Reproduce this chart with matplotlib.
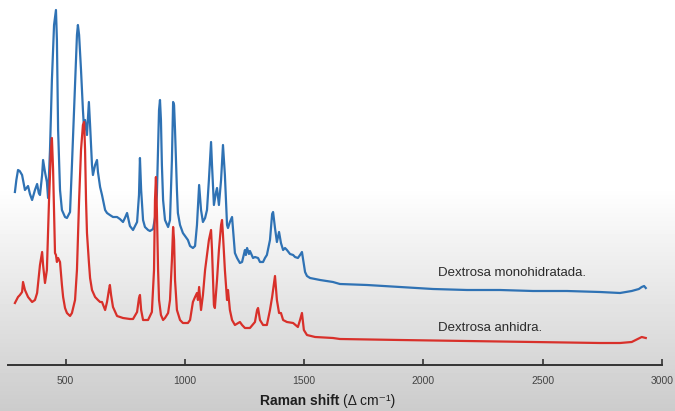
import matplotlib.pyplot as plt
import numpy as np

# Raman spectra (arbitrary intensity units)
wn_mono = [288, 294, 301, 308, 318, 330, 343, 351, 360, 372, 381, 388, 393, 402, 406,
           414, 422, 427, 435, 443, 452, 460, 464, 469, 477, 485, 498, 506, 519, 527,
           540, 548, 552, 557, 565, 573, 578, 582, 590, 598, 603, 611, 615, 624, 632,
           636, 645, 653, 666, 674, 686, 699, 716, 728, 741, 749, 758, 770, 783, 800,
           808, 812, 817, 825, 833, 846, 854, 867, 875, 883, 888, 892, 896, 900, 904,
           909, 917, 930, 938, 946, 951, 955, 959, 967, 971, 980, 992, 1001, 1013, 1022,
           1034, 1043, 1051, 1060, 1068, 1076, 1085, 1093, 1101, 1110, 1114, 1122, 1131, 1135, 1143,
           1152, 1160, 1168, 1177, 1181, 1189, 1198, 1210, 1219, 1231, 1240, 1252, 1256, 1261, 1269,
           1273, 1286, 1294, 1307, 1315, 1328, 1336, 1344, 1357, 1366, 1370, 1378, 1386, 1395, 1403,
           1412, 1420, 1428, 1441, 1454, 1462, 1474, 1483, 1491, 1495, 1504, 1512, 1525, 1546, 1567,
           1621, 1650, 1764, 1902, 2040, 2183, 2321, 2459, 2602, 2740, 2824, 2873, 2903, 2915, 2925,
           2932]
int_mono = [173, 185, 195, 194, 190, 175, 179, 171, 165, 175, 181, 172, 170, 190, 205,
            193, 183, 167, 215, 285, 340, 355, 325, 235, 175, 155, 148, 147, 153, 200,
            280, 330, 340, 330, 295, 255, 235, 245, 230, 263, 240, 200, 190, 200, 205,
            193, 178, 170, 155, 152, 150, 148, 148, 146, 143, 147, 152, 139, 135, 143,
            170, 207, 175, 145, 138, 135, 134, 136, 147, 170, 215, 255, 265, 245, 200,
            165, 145, 138, 145, 205, 263, 260, 235, 175, 152, 140, 132, 129, 125, 119,
            117, 119, 140, 180, 155, 143, 147, 155, 185, 223, 200, 160, 173, 177, 160,
            185, 220, 190, 140, 137, 143, 148, 112, 107, 102, 103, 115, 110, 117, 111,
            114, 107, 108, 107, 103, 103, 107, 110, 125, 151, 153, 137, 123, 133, 122,
            115, 117, 115, 111, 110, 108, 107, 110, 113, 107, 93, 89, 87, 86, 85,
            83, 81, 80, 78, 76, 75, 75, 74, 74, 73, 72, 74, 76, 78, 79,
            77]

wn_anh = [288, 301, 309, 318, 322, 330, 343, 360, 372, 381, 393, 402, 406, 414, 422,
          431, 439, 443, 448, 456, 460, 464, 469, 477, 485, 490, 498, 506, 519, 527,
          540, 548, 557, 565, 573, 578, 582, 586, 590, 598, 603, 611, 624, 636, 645,
          653, 666, 674, 682, 686, 691, 699, 716, 741, 770, 783, 800, 808, 812, 817,
          825, 846, 862, 871, 875, 879, 883, 888, 892, 900, 909, 917, 930, 938, 946,
          951, 955, 959, 967, 980, 992, 1013, 1022, 1034, 1043, 1051, 1055, 1060, 1068, 1076,
          1085, 1093, 1101, 1110, 1114, 1122, 1126, 1135, 1143, 1152, 1156, 1160, 1168, 1177, 1181,
          1189, 1198, 1210, 1231, 1240, 1252, 1273, 1294, 1303, 1307, 1315, 1328, 1344, 1357, 1366,
          1370, 1378, 1386, 1395, 1403, 1412, 1428, 1454, 1474, 1483, 1491, 1499, 1512, 1546, 1621,
          1650, 1902, 2183, 2459, 2740, 2824, 2873, 2890, 2915, 2932]
int_anh = [62, 68, 70, 73, 83, 75, 68, 63, 65, 72, 100, 113, 100, 82, 95,
           165, 215, 227, 195, 112, 110, 103, 107, 103, 80, 68, 57, 52, 49, 52,
           65, 95, 165, 215, 240, 243, 215, 165, 132, 103, 87, 75, 68, 65, 63,
           63, 55, 63, 75, 80, 70, 58, 49, 47, 46, 46, 53, 67, 70, 55,
           45, 45, 53, 95, 165, 188, 155, 95, 65, 50, 45, 47, 52, 65, 105,
           138, 125, 85, 55, 45, 42, 42, 45, 63, 68, 72, 65, 78, 55, 70,
           95, 110, 125, 135, 115, 60, 57, 85, 115, 140, 145, 130, 95, 65, 75,
           55, 45, 40, 43, 40, 37, 37, 43, 55, 57, 45, 40, 40, 55, 68,
           75, 89, 65, 52, 52, 45, 43, 42, 38, 45, 52, 35, 30, 28, 27,
           26, 25, 24, 23, 22, 22, 23, 25, 28, 27]

ticks = [500, 1000, 1500, 2000, 2500, 3000]
label_mono = 'Dextrosa monohidratada.'
label_anh = 'Dextrosa anhidra.'

fig = plt.figure(figsize=(6.75, 4.11), dpi=100)

# soft white-to-grey background
bg = fig.add_axes([0, 0, 1, 1], zorder=0)
shade = np.concatenate([np.ones(45), np.linspace(1.0, 0.80, 55)])
bg.imshow(shade[:, None], cmap='gray', vmin=0, vmax=1, aspect='auto',
          extent=[0, 1, 0, 1], interpolation='bilinear')
bg.axis('off')

ax = fig.add_axes([8 / 675, 46 / 411, 654 / 675, 365 / 411], zorder=1)
ax.patch.set_alpha(0)

ax.plot(wn_mono, int_mono, color='#2f72b4', lw=1.6, solid_joinstyle='round')
ax.plot(wn_anh, int_anh, color='#d8302a', lw=1.6, solid_joinstyle='round')

ax.text(2061, 92, label_mono, fontsize=9.5, color='#2b2b2b',
        family='Liberation Sans', va='center')
ax.text(2061, 37, label_anh, fontsize=9.5, color='#2b2b2b',
        family='Liberation Sans', va='center')

ax.set_xlim(259, 3000)
ax.set_ylim(0, 365)
for s in ['left', 'right', 'top']:
    ax.spines[s].set_visible(False)
ax.spines['bottom'].set_color('#333333')
ax.spines['bottom'].set_linewidth(1.4)
ax.set_yticks([])
ax.set_xticks(ticks)
ax.tick_params(axis='x', direction='in', length=4, width=1.2, color='#333333',
               labelsize=7.5, labelcolor='#444444', pad=8)
for t in ax.get_xticklabels():
    t.set_family('Liberation Sans')

fig.text(339 / 675, 1 - 401 / 411, 'Raman shift', fontsize=10, weight='bold',
         color='#1e1e1e', family='Liberation Sans', ha='right', va='center')
fig.text(343 / 675, 1 - 401 / 411, '(\u0394 cm\u207b\u00b9)', fontsize=10,
         color='#1e1e1e', family=['Liberation Sans', 'DejaVu Sans'],
         ha='left', va='center')

fig.savefig('out.png', dpi=100)
